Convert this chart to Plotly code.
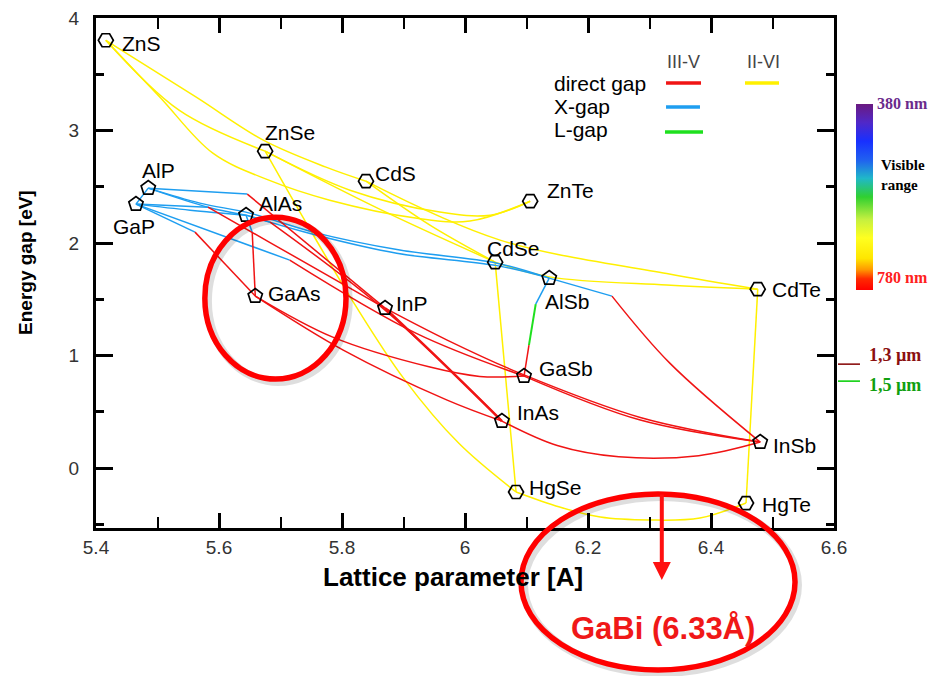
import plotly.graph_objects as go

# ---------------- data ----------------
ii_vi_names = ["ZnS", "ZnSe", "CdS", "ZnTe", "CdSe", "CdTe", "HgSe", "HgTe"]
ii_vi_a = [5.416, 5.675, 5.839, 6.106, 6.049, 6.476, 6.083, 6.457]
ii_vi_gap = [3.804, 2.818, 2.551, 2.373, 1.831, 1.591, -0.213, -0.311]

iii_v_names = ["AlP", "GaP", "AlAs", "GaAs", "InP", "AlSb", "GaSb", "InAs", "InSb"]
iii_v_a = [5.485, 5.465, 5.644, 5.659, 5.870, 6.137, 6.096, 6.060, 6.480]
iii_v_gap = [2.489, 2.347, 2.249, 1.529, 1.422, 1.689, 0.818, 0.418, 0.231]

# II-VI alloy curves (lattice a, gap)
ZnS_ZnSe = ([5.416, 5.535, 5.675], [3.804, 3.182, 2.818])
ZnS_CdS = ([5.416, 5.563, 5.672, 5.774, 5.839], [3.804, 3.298, 2.916, 2.676, 2.551])
ZnS_ZnTe = ([5.416, 5.504, 5.590, 5.681, 5.780, 5.922, 6.008, 6.106],
            [3.804, 3.298, 2.800, 2.560, 2.382, 2.222, 2.196, 2.373])
ZnSe_ZnTe = ([5.675, 5.813, 5.959, 6.041, 6.106], [2.818, 2.471, 2.276, 2.249, 2.373])
ZnSe_CdSe = ([5.675, 5.862, 6.049], [2.818, 2.300, 1.831])
CdS_CdSe = ([5.839, 5.943, 6.049], [2.551, 2.160, 1.831])
CdS_CdTe = ([5.839, 6.057, 6.328, 6.476], [2.551, 2.027, 1.730, 1.591])
CdSe_CdTe = ([6.049, 6.137, 6.328, 6.476], [1.831, 1.700, 1.627, 1.591])
ZnSe_HgSe = ([5.675, 5.745, 5.818, 5.900, 5.990, 6.083], [2.818, 2.150, 1.480, 0.800, 0.220, -0.213])
CdSe_HgSe = ([6.049, 6.083], [1.831, -0.213])
CdTe_HgTe = ([6.476, 6.457], [1.591, -0.311])
HgSe_HgTe = ([6.083, 6.154, 6.220, 6.301, 6.382, 6.457], [-0.213, -0.347, -0.436, -0.462, -0.444, -0.311])

# III-V, X-gap branches
AlP_GaP_X = ([5.485, 5.465], [2.489, 2.347])
AlP_AlAs_X = ([5.485, 5.582, 5.644], [2.489, 2.320, 2.249])
AlP_InP_X = ([5.485, 5.646], [2.489, 2.436])
GaP_AlAs_X = ([5.465, 5.553, 5.644], [2.347, 2.293, 2.249])
GaP_InP_X = ([5.465, 5.582], [2.347, 2.320])
GaP_GaAs_X = ([5.465, 5.561], [2.347, 2.098])
GaP_GaSb_X = ([5.465, 5.715], [2.347, 1.849])
AlAs_GaAs_X = ([5.644, 5.654], [2.249, 2.098])
AlAs_InAs_X = ([5.644, 5.683], [2.249, 2.187])
AlAs_AlSb_X = ([5.644, 5.759, 5.889, 6.052, 6.137], [2.249, 2.070, 1.910, 1.800, 1.689])
AlP_AlSb_X = ([5.485, 5.569, 5.650, 5.753, 5.894, 6.052, 6.137],
              [2.489, 2.356, 2.267, 2.098, 1.938, 1.822, 1.689])
AlSb_InSb_X = ([6.137, 6.239], [1.689, 1.529])
AlSb_GaSb_X = ([6.137, 6.115], [1.689, 1.458])

# III-V, L-gap branch
AlSb_GaSb_L = ([6.115, 6.104], [1.458, 1.093])

# III-V, direct-gap branches
AlP_InP_G = ([5.646, 5.870], [2.436, 1.422])
GaP_InP_G = ([5.582, 5.683, 5.870], [2.320, 2.005, 1.422])
GaP_GaAs_G = ([5.561, 5.659], [2.098, 1.529])
GaP_GaSb_G = ([5.715, 5.920, 6.096], [1.849, 1.200, 0.818])
AlAs_GaAs_G = ([5.654, 5.659], [2.098, 1.529])
AlAs_InAs_G = ([5.683, 5.870, 6.060], [2.187, 1.404, 0.418])
GaAs_InAs = ([5.659, 5.802, 5.971, 6.060], [1.529, 1.049, 0.604, 0.418])
GaAs_GaSb = ([5.659, 5.785, 5.943, 6.024, 6.096], [1.529, 1.164, 0.898, 0.815, 0.818])
InP_InAs = ([5.870, 5.959, 6.060], [1.422, 0.960, 0.418])
InP_InSb = ([5.870, 5.971, 6.089, 6.285, 6.480], [1.422, 1.138, 0.844, 0.450, 0.231])
GaSb_InSb = ([6.096, 6.285, 6.480], [0.818, 0.427, 0.231])
InAs_InSb = ([6.060, 6.150, 6.250, 6.380, 6.480], [0.418, 0.200, 0.100, 0.110, 0.231])
AlSb_InSb_G = ([6.239, 6.333, 6.480], [1.529, 0.933, 0.231])
AlSb_GaSb_G = ([6.104, 6.096], [1.093, 0.818])

# telecom wavelengths (gap values where the side marks sit) and GaBi lattice
telecom_labels = ["1,3 µm", "1,5 µm"]
telecom_gap = [0.924, 0.773]
gabi_a = 6.32

x_tick_vals = [5.4, 5.6, 5.8, 6.0, 6.2, 6.4, 6.6]
x_tick_text = ["5.4", "5.6", "5.8", "6", "6.2", "6.4", "6.6"]
y_tick_vals = [0, 1, 2, 3, 4]
y_tick_text = ["0", "1", "2", "3", "4"]

# ---------------- styles ----------------
YELLOW = "#fff000"
BLUE = "#1e9ef0"
GREEN = "#1ee01e"
RED = "#f01414"
FONT = "Liberation Sans, Arial, Helvetica, sans-serif"
SERIF = "Liberation Serif, Times New Roman, serif"

# label offsets in pixels (dx right, dy down)
label_offsets = {
    "ZnS": (36, 3), "ZnSe": (25, -19), "CdS": (30, -8), "ZnTe": (40, -11),
    "CdSe": (18, -14), "CdTe": (39, 0), "HgSe": (39, -5), "HgTe": (40, 1),
    "AlP": (10, -18), "GaP": (-2, 22), "AlAs": (34, -12), "GaAs": (39, -3),
    "InP": (27, -5), "AlSb": (18, 23), "GaSb": (42, -8), "InAs": (36, -9),
    "InSb": (34, 3),
}

fig = go.Figure()


def add_curves(curves, color, width=1.5):
    for a, e in curves:
        fig.add_trace(go.Scatter(
            x=a, y=e, mode="lines",
            line=dict(color=color, width=width, shape="spline", smoothing=1.0),
            hoverinfo="skip", showlegend=False))


add_curves([ZnS_ZnSe, ZnS_CdS, ZnS_ZnTe, ZnSe_ZnTe, ZnSe_CdSe, CdS_CdSe, CdS_CdTe,
            CdSe_CdTe, ZnSe_HgSe, CdSe_HgSe, CdTe_HgTe, HgSe_HgTe], YELLOW)
add_curves([AlP_GaP_X, AlP_AlAs_X, AlP_InP_X, GaP_AlAs_X, GaP_InP_X, GaP_GaAs_X,
            GaP_GaSb_X, AlAs_GaAs_X, AlAs_InAs_X, AlAs_AlSb_X, AlP_AlSb_X,
            AlSb_InSb_X, AlSb_GaSb_X], BLUE)
add_curves([AlSb_GaSb_L], GREEN, 2)
add_curves([AlP_InP_G, GaP_InP_G, GaP_GaAs_G, GaP_GaSb_G, AlAs_GaAs_G, AlAs_InAs_G,
            GaAs_InAs, GaAs_GaSb, InP_InSb, GaSb_InSb, InAs_InSb, AlSb_InSb_G,
            AlSb_GaSb_G], RED)
add_curves([InP_InAs], RED, 2.6)

fig.add_trace(go.Scatter(
    x=ii_vi_a, y=ii_vi_gap, mode="markers",
    marker=dict(symbol="hexagon2-open", size=15, color="black", line=dict(width=1.7, color="black")),
    hoverinfo="skip", showlegend=False))
fig.add_trace(go.Scatter(
    x=iii_v_a, y=iii_v_gap, mode="markers",
    marker=dict(symbol="pentagon-open", size=15, color="black", line=dict(width=1.7, color="black")),
    hoverinfo="skip", showlegend=False))

# visible-range colour bar (dummy trace)
vis_scale = [[0.0, "#ff0000"], [0.06, "#ff2a00"], [0.11, "#ff9a00"], [0.17, "#ffe600"],
             [0.28, "#ffff20"], [0.38, "#c4f040"], [0.50, "#30d030"], [0.60, "#20b8c8"],
             [0.70, "#2060f0"], [0.80, "#1830ff"], [0.90, "#5028c8"], [1.0, "#6a1a80"]]
fig.add_trace(go.Scatter(
    x=[None], y=[None], mode="markers",
    marker=dict(color=[0.5], cmin=0, cmax=1, colorscale=vis_scale, showscale=True,
                colorbar=dict(x=1.0298, xanchor="left", y=0.649, yanchor="middle",
                              len=0.3647, lenmode="fraction", thickness=17,
                              outlinewidth=0, showticklabels=False, ticks="",
                              xpad=0, ypad=0)),
    hoverinfo="skip", showlegend=False))


def note(x, y, text, size, color="black", family=FONT, xanchor="center", xref="paper",
         yref="paper", **kw):
    return dict(x=x, y=y, xref=xref, yref=yref, text=text, showarrow=False,
                xanchor=xanchor, yanchor="middle",
                font=dict(family=family, size=size, color=color), **kw)


annotations = []
for names, xs, ys in [(ii_vi_names, ii_vi_a, ii_vi_gap), (iii_v_names, iii_v_a, iii_v_gap)]:
    for n, xv, yv in zip(names, xs, ys):
        dx, dy = label_offsets[n]
        annotations.append(note(xv, yv, n, 21, xref="x", yref="y", xshift=dx, yshift=-dy))

# legend texts
annotations += [
    note(0.7954, 0.9137, "III-V", 18, "#444"),
    note(0.9038, 0.9137, "II-VI", 18, "#444"),
    note(0.6179, 0.8725, "direct gap", 21, xanchor="left"),
    note(0.6179, 0.8255, "X-gap", 21, xanchor="left"),
    note(0.6179, 0.7804, "L-gap", 21, xanchor="left"),
]

# colour bar labels
annotations += [
    note(1.0556, 0.8314, "<b>380 nm</b>", 16, "#6a2a8c", SERIF, xanchor="left"),
    note(1.061, 0.692, "<b>Visible<br>range</b>", 15, "black", SERIF, xanchor="left", align="left"),
    note(1.0556, 0.4902, "<b>780 nm</b>", 16, "#ff2020", SERIF, xanchor="left"),
]
telecom_colors = ["#8b1010", "#10a010"]
telecom_shift = [9, -4]
for lab, g, col, sh in zip(telecom_labels, telecom_gap, telecom_colors, telecom_shift):
    annotations.append(note(1.0447, g, "<b>" + lab + "</b>", 18, col, SERIF, xanchor="left",
                            yref="y", yshift=sh))

# axis titles
annotations += [
    note(-0.0949, 0.5216, "<b>Energy gap [eV]</b>", 19, textangle=-90),
    note(0.4837, -0.0961, "<b>Lattice parameter [A]</b>", 26),
]

# GaBi annotation
annotations += [
    dict(x=gabi_a, y=-0.102, xref="x", yref="paper", text="", showarrow=True,
         ax=0, ay=-87, axref="pixel", ayref="pixel", arrowcolor="#ff1010",
         arrowwidth=4, arrowhead=2, arrowsize=0.9, standoff=0),
    note(0.7683, -0.1961, "<b>GaBi (6.33Å)</b>", 31, "#f01818"),
]

shapes = [
    # legend line samples
    dict(type="line", xref="paper", yref="paper", x0=0.7724, x1=0.8198, y0=0.8725, y1=0.8725,
         line=dict(color=RED, width=3.5)),
    dict(type="line", xref="paper", yref="paper", x0=0.8794, x1=0.9255, y0=0.8725, y1=0.8725,
         line=dict(color=YELLOW, width=3.5)),
    dict(type="line", xref="paper", yref="paper", x0=0.7724, x1=0.8184, y0=0.8255, y1=0.8255,
         line=dict(color=BLUE, width=3.5)),
    dict(type="line", xref="paper", yref="paper", x0=0.7710, x1=0.8225, y0=0.7765, y1=0.7765,
         line=dict(color=GREEN, width=3.5)),
    # ellipse shadows
    dict(type="circle", xref="x", yref="y", x0=5.582, x1=5.811, y0=0.765, y1=2.205,
         line=dict(color="rgba(0,0,0,0.13)", width=8), layer="above"),
    dict(type="circle", xref="paper", yref="paper", x0=0.5800, x1=0.9512, y0=-0.2843, y1=0.0608,
         line=dict(color="rgba(0,0,0,0.13)", width=8), layer="above"),
    # red ellipses
    dict(type="circle", xref="x", yref="y", x0=5.577, x1=5.8065, y0=0.791, y1=2.231,
         line=dict(color="#ff0000", width=5.5), layer="above"),
    dict(type="circle", xref="paper", yref="paper", x0=0.5759, x1=0.9472, y0=-0.2784, y1=0.0667,
         line=dict(color="#ff0000", width=5.5), layer="above"),
]
tele_line_colors = ["#8b1010", "#10d010"]
for g, col in zip(telecom_gap, tele_line_colors):
    shapes.append(dict(type="line", xref="paper", yref="y", x0=1.0054, x1=1.0352, y0=g, y1=g,
                       line=dict(color=col, width=1.6)))

axis_common = dict(showline=True, linewidth=3, linecolor="black", mirror="ticks",
                   ticks="inside", tickcolor="black", tickwidth=2.5, showgrid=False,
                   zeroline=False, tickmode="array",
                   tickfont=dict(family=FONT, size=19, color="#333"))

fig.update_layout(
    width=933, height=676,
    margin=dict(l=96, r=99, t=18, b=148, autoexpand=False),
    paper_bgcolor="white", plot_bgcolor="white",
    xaxis=dict(range=[5.4, 6.6], tickvals=x_tick_vals, ticktext=x_tick_text, ticklen=15,
               ticklabelstandoff=0,
               minor=dict(tickmode="linear", tick0=5.4, dtick=0.1, ticks="inside", ticklen=11,
                          tickwidth=2, tickcolor="black", showgrid=False),
               **axis_common),
    yaxis=dict(range=[-0.533, 4.002], tickvals=y_tick_vals, ticktext=y_tick_text, ticklen=17,
               ticklabelstandoff=10,
               minor=dict(tickmode="linear", tick0=0, dtick=0.5, ticks="inside", ticklen=8,
                          tickwidth=2.5, tickcolor="black", showgrid=False),
               **axis_common),
    annotations=annotations,
    shapes=shapes,
    showlegend=False,
)

fig.write_html("out.html", config={"displayModeBar": False},
               post_script="document.body.style.margin='0px';document.body.style.overflow='hidden';")
